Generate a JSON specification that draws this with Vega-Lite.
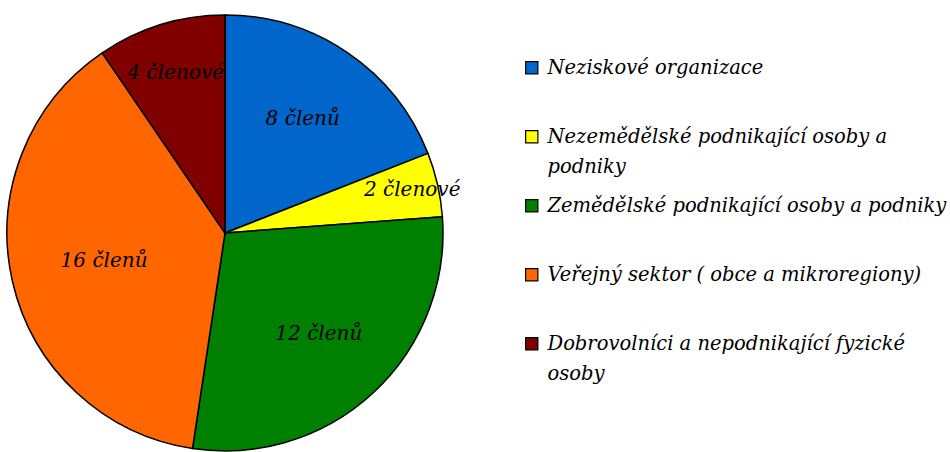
{
  "$schema": "https://vega.github.io/schema/vega-lite/v6.json",
  "width": 450,
  "height": 466,
  "padding": 0,
  "background": "white",
  "config": {"style": {"guide-label": {"lineHeight": 30}}},
  "data": {
    "values": [
      {"cat": "Neziskové organizace", "count": 8, "label": "8 členů", "ord": 1},
      {"cat": "Nezemědělské podnikající osoby a podniky", "count": 2, "label": "2 členové", "ord": 2},
      {"cat": "Zemědělské podnikající osoby a podniky", "count": 12, "label": "12  členů", "ord": 3},
      {"cat": "Veřejný sektor ( obce a mikroregiony)", "count": 16, "label": "16 členů", "ord": 4},
      {"cat": "Dobrovolníci a nepodnikající fyzické osoby", "count": 4, "label": "4 členové", "ord": 5}
    ]
  },
  "encoding": {
    "theta": {"field": "count", "type": "quantitative", "stack": true},
    "order": {"field": "ord", "type": "quantitative"}
  },
  "layer": [
    {
      "mark": {"type": "arc", "outerRadius": 218, "stroke": "black", "strokeWidth": 1.5},
      "encoding": {
        "color": {
          "field": "cat",
          "type": "nominal",
          "scale": {
            "domain": ["Neziskové organizace", "Nezemědělské podnikající osoby a podniky", "Zemědělské podnikající osoby a podniky", "Veřejný sektor ( obce a mikroregiony)", "Dobrovolníci a nepodnikající fyzické osoby"],
            "range": ["#0066CC", "#FFFF00", "#008000", "#FF6600", "#800000"]
          },
          "legend": {
            "title": null,
            "orient": "none",
            "legendX": 522,
            "legendY": 58,
            "symbolType": "square",
            "symbolSize": 150,
            "symbolStrokeColor": "black",
            "symbolStrokeWidth": 1.2,
            "labelFont": "DejaVu Serif",
            "labelFontStyle": "italic",
            "labelFontSize": 19.5,
            "labelColor": "black",
            "labelLimit": 500,
            "labelOffset": 6,
            "rowPadding": 18,
            "labelExpr": "datum.label == 'Nezemědělské podnikající osoby a podniky' ? ['Nezemědělské podnikající osoby a', 'podniky'] : datum.label == 'Dobrovolníci a nepodnikající fyzické osoby' ? ['Dobrovolníci a nepodnikající fyzické', 'osoby'] : [datum.label, ' ']"
          }
        }
      }
    },
    {
      "mark": {"type": "text", "radius": 138, "font": "DejaVu Serif", "fontStyle": "italic", "fontSize": 20, "color": "black"},
      "encoding": {
        "text": {"condition": {"test": "datum.ord == 1 || datum.ord == 3", "field": "label"}, "value": ""}
      }
    },
    {
      "mark": {"type": "text", "radius": 124, "font": "DejaVu Serif", "fontStyle": "italic", "fontSize": 20, "color": "black"},
      "encoding": {
        "text": {"condition": {"test": "datum.ord == 4", "field": "label"}, "value": ""}
      }
    },
    {
      "mark": {"type": "text", "radius": 192, "font": "DejaVu Serif", "fontStyle": "italic", "fontSize": 20, "color": "black"},
      "encoding": {
        "text": {"condition": {"test": "datum.ord == 2", "field": "label"}, "value": ""}
      }
    },
    {
      "mark": {"type": "text", "radius": 167, "font": "DejaVu Serif", "fontStyle": "italic", "fontSize": 20, "color": "black"},
      "encoding": {
        "text": {"condition": {"test": "datum.ord == 5", "field": "label"}, "value": ""}
      }
    }
  ]
}
